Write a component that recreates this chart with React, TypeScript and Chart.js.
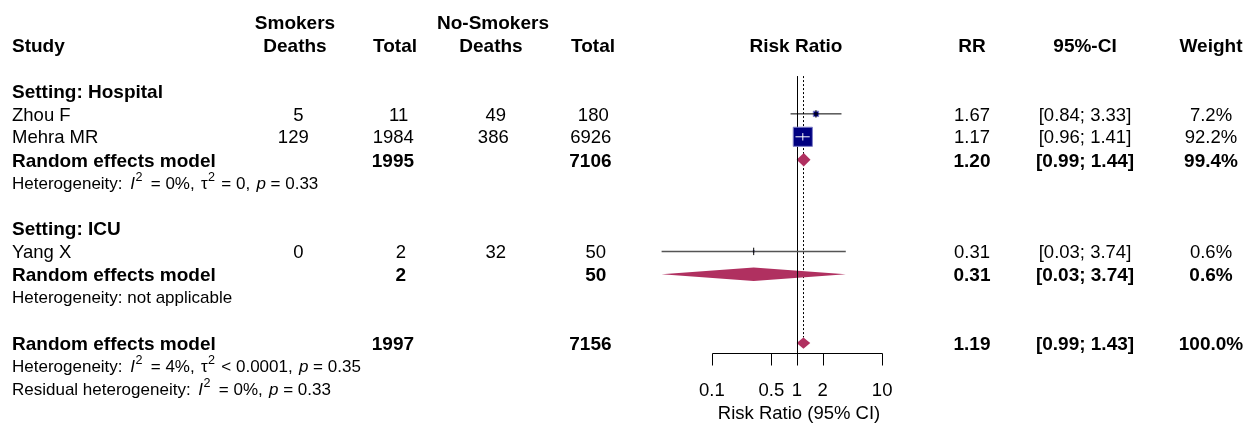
import { useEffect, useRef } from "react";
import { Chart, registerables } from "chart.js";

Chart.register(...registerables);

// ---------------- data ----------------
const studyNames = ["Zhou F", "Mehra MR", "Yang X"];
const studySetting = ["Hospital", "Hospital", "ICU"];
const smokersDeaths = [5, 129, 0];
const smokersTotal = [11, 1984, 2];
const nonSmokersDeaths = [49, 386, 32];
const nonSmokersTotal = [180, 6926, 50];
const studyRR = [1.67, 1.17, 0.31];
const studyLower = [0.84, 0.96, 0.0257];
const studyUpper = [3.33, 1.41, 3.74];
const studyWeight = [7.2, 92.2, 0.6];

const subgroupNames = ["Hospital", "ICU"];
const subgroupRR = [1.2, 0.31];
const subgroupLower = [0.99, 0.0257];
const subgroupUpper = [1.44, 3.74];
const subgroupWeight = [99.4, 0.6];
const subgroupI2 = ["0%", null];
const subgroupTau2 = ["= 0", null];
const subgroupP = ["0.33", null];

const overallRR = [1.19];
const overallLower = [0.99];
const overallUpper = [1.43];
const overallWeight = [100.0];
const overallI2 = ["4%"];
const overallTau2 = ["< 0.0001"];
const overallP = ["0.35"];
const residualI2 = ["0%"];
const residualP = ["0.33"];

const axisTicks = [0.1, 0.5, 1, 2, 10];
const axisTickLabels = ["0.1", "0.5", "1", "2", "10"];
const axisTitle = "Risk Ratio (95% CI)";

// ---------------- styles / layout ----------------
const W = 1249;
const H = 423;
const FONT = '"Liberation Sans", Arial, Helvetica, sans-serif';
const MAIN = 18.5;
const BOLD = 19;
const HET = 17;
const SQUARE_COL = "#000080";
const SQUARE_BORDER = "#8080c8";
const DIAMOND_COL = "#B03060";
const lineColors = ["#000000", "#ffffff", "#555555"];
const tickColors = ["#000000", "#ffffff", "#000000"];

// x: log scale spanning the full canvas (85.15 px per decade, 1 at x=797)
const X_MIN = Math.pow(10, -797 / 85.15);
const X_MAX = Math.pow(10, (W - 797) / 85.15);
// y: row index scale (22.92 px per row)
const ROW_PX = 22.92;
const Y_MIN = -0.9686;
const Y_MAX = Y_MIN + H / ROW_PX;

const COL = {
  study: 12,
  sDeaths: 301,
  sTotal: 403.5,
  nDeaths: 501,
  nTotal: 601,
  rr: 972,
  ci: 1085,
  weight: 1211,
};

type Part = { t: string; i?: boolean; sup?: boolean; b?: boolean; gap?: number };

function fmt2(v: number) {
  return v.toFixed(2);
}
function ciText(lo: number, hi: number) {
  return `[${lo.toFixed(2)}; ${hi.toFixed(2)}]`;
}

export default function App() {
  const ref = useRef<HTMLCanvasElement>(null);

  useEffect(() => {
    const canvas = ref.current!;
    let cur: any = null;

    // ---- rows ----
    type Row = { kind: string; idx: number; row: number };
    const rows: Row[] = [];
    let r = 3;
    const studyRow: number[] = [];
    const subgroupRow: number[] = [];
    subgroupNames.forEach((g, gi) => {
      rows.push({ kind: "setting", idx: gi, row: r++ });
      studyNames.forEach((_, si) => {
        if (studySetting[si] === g) {
          studyRow[si] = r;
          rows.push({ kind: "study", idx: si, row: r++ });
        }
      });
      subgroupRow[gi] = r;
      rows.push({ kind: "subgroup", idx: gi, row: r++ });
      rows.push({ kind: "subhet", idx: gi, row: r++ });
      r++;
    });
    const overallRow = r;
    const axisRow = overallRow + 0.45;
    const tickLabelRow = overallRow + 2;
    const axisTitleRow = overallRow + 3;
    const refTopRow = 2.35;

    const datasets: any[] = [];
    // CI lines
    studyNames.forEach((_, i) => {
      datasets.push({
        label: "ci-" + i,
        data: [
          { x: studyLower[i], y: studyRow[i] },
          { x: studyUpper[i], y: studyRow[i] },
        ],
        showLine: true,
        borderColor: lineColors[i],
        borderWidth: i === 2 ? 1.5 : 1,
        pointRadius: 0,
        order: 1,
      });
    });
    // squares (area proportional to weight)
    datasets.push({
      label: "squares",
      data: studyNames.map((_, i) => ({ x: studyRR[i], y: studyRow[i] })),
      pointStyle: "rect",
      pointRadius: studyWeight.map((w) => Math.sqrt(w) * 1.41),
      backgroundColor: SQUARE_COL,
      borderColor: SQUARE_BORDER,
      borderWidth: 1,
      order: 2,
    });
    // point-estimate ticks
    datasets.push({
      label: "ticks",
      data: studyNames.map((_, i) => ({ x: studyRR[i], y: studyRow[i] })),
      pointStyle: "line",
      rotation: 90,
      pointRadius: 3.7,
      borderColor: tickColors,
      borderWidth: 1,
      order: 0,
    });

    const drawText = (
      ctx: CanvasRenderingContext2D,
      text: string,
      x: number,
      row: number,
      opts: { bold?: boolean; size?: number; just?: number } = {}
    ) => {
      const size = opts.size ?? (opts.bold ? BOLD : MAIN);
      ctx.font = `${opts.bold ? "bold " : ""}${size}px ${FONT}`;
      const w = ctx.measureText(text).width;
      const just = opts.just ?? 0;
      const y = cur.scales.y.getPixelForValue(row) + size * 0.36;
      ctx.textAlign = "left";
      ctx.textBaseline = "alphabetic";
      ctx.fillText(text, x - w * just, y);
    };

    const drawRich = (ctx: CanvasRenderingContext2D, parts: Part[], x: number, row: number, size: number) => {
      const y = cur.scales.y.getPixelForValue(row) + size * 0.36;
      let cx = x;
      ctx.textAlign = "left";
      ctx.textBaseline = "alphabetic";
      for (const p of parts) {
        const s = p.sup ? size * 0.74 : size;
        ctx.font = `${p.i ? "italic " : ""}${p.b ? "bold " : ""}${s}px ${FONT}`;
        const dy = p.sup ? -size * 0.45 : 0;
        ctx.fillText(p.t, cx, y + dy);
        cx += ctx.measureText(p.t).width + (p.gap ?? 0);
      }
    };

    const hetParts = (prefix: string, i2: string, tau2: string | null, p: string): Part[] => {
      const parts: Part[] = [
        { t: prefix, gap: 3 },
        { t: "I", i: true, gap: 0.5 },
        { t: "2", sup: true, gap: 3.5 },
        { t: " = " + i2 + ",", gap: 1.5 },
      ];
      if (tau2 !== null) {
        parts.push({ t: " \u03c4", gap: 0.5 }, { t: "2", sup: true, gap: 1.5 }, { t: " " + tau2 + ",", gap: 1.5 });
      }
      parts.push({ t: " " }, { t: "p", i: true }, { t: " = " + p });
      return parts;
    };

    const diamond = (
      ctx: CanvasRenderingContext2D,
      lo: number,
      est: number,
      hi: number,
      row: number,
      half: number
    ) => {
      const xs = cur.scales.x;
      const ys = cur.scales.y;
      const y = ys.getPixelForValue(row);
      ctx.beginPath();
      ctx.moveTo(xs.getPixelForValue(lo), y);
      ctx.lineTo(xs.getPixelForValue(est), y - half);
      ctx.lineTo(xs.getPixelForValue(hi), y);
      ctx.lineTo(xs.getPixelForValue(est), y + half);
      ctx.closePath();
      ctx.fillStyle = DIAMOND_COL;
      ctx.fill();
    };

    const forestPlugin = {
      id: "forest",
      beforeDraw(c: any) {
        cur = c;
        const ctx = c.ctx as CanvasRenderingContext2D;
        ctx.save();
        ctx.fillStyle = "#ffffff";
        ctx.fillRect(0, 0, W, H);
        ctx.restore();
      },
      beforeDatasetsDraw(c: any) {
        cur = c;
        const ctx = c.ctx as CanvasRenderingContext2D;
        const xs = c.scales.x;
        const ys = c.scales.y;
        ctx.save();
        // dotted overall-effect line
        const xo = Math.round(xs.getPixelForValue(overallRR[0])) + 0.5;
        ctx.strokeStyle = "#000";
        ctx.lineWidth = 1;
        ctx.setLineDash([2, 2]);
        ctx.beginPath();
        ctx.moveTo(xo, ys.getPixelForValue(refTopRow));
        ctx.lineTo(xo, ys.getPixelForValue(overallRow) - 5.5);
        ctx.stroke();
        ctx.setLineDash([]);
        // diamonds
        subgroupNames.forEach((_, gi) => {
          diamond(ctx, subgroupLower[gi], subgroupRR[gi], subgroupUpper[gi], subgroupRow[gi], 6.7);
        });
        diamond(ctx, overallLower[0], overallRR[0], overallUpper[0], overallRow, 5.6);
        // solid null line
        const x1 = Math.round(xs.getPixelForValue(1)) + 0.5;
        ctx.strokeStyle = "#000";
        ctx.beginPath();
        ctx.moveTo(x1, ys.getPixelForValue(refTopRow));
        ctx.lineTo(x1, ys.getPixelForValue(axisRow));
        ctx.stroke();
        ctx.restore();
      },
      afterDraw(c: any) {
        cur = c;
        const ctx = c.ctx as CanvasRenderingContext2D;
        const xs = c.scales.x;
        const ys = c.scales.y;
        ctx.save();
        ctx.fillStyle = "#000";
        // axis
        const ya = Math.round(ys.getPixelForValue(axisRow)) + 0.5;
        const xl = Math.round(xs.getPixelForValue(axisTicks[0])) + 0.5;
        const xr = Math.round(xs.getPixelForValue(axisTicks[axisTicks.length - 1])) + 0.5;
        ctx.strokeStyle = "#000";
        ctx.lineWidth = 1;
        ctx.beginPath();
        ctx.moveTo(xl, ya);
        ctx.lineTo(xr, ya);
        axisTicks.forEach((t) => {
          const xt = Math.round(xs.getPixelForValue(t)) + 0.5;
          ctx.moveTo(xt, ya);
          ctx.lineTo(xt, ya + 12);
        });
        ctx.stroke();
        axisTicks.forEach((t, i) => {
          drawText(ctx, axisTickLabels[i], xs.getPixelForValue(t), tickLabelRow, { just: 0.5 });
        });
        drawText(ctx, axisTitle, xs.getPixelForValue(1) + 2, axisTitleRow, { just: 0.5 });

        // headers
        drawText(ctx, "Smokers", 295, 0, { bold: true, just: 0.5 });
        drawText(ctx, "No-Smokers", 493, 0, { bold: true, just: 0.5 });
        drawText(ctx, "Study", COL.study, 1, { bold: true });
        drawText(ctx, "Deaths", 295, 1, { bold: true, just: 0.5 });
        drawText(ctx, "Total", 395, 1, { bold: true, just: 0.5 });
        drawText(ctx, "Deaths", 491, 1, { bold: true, just: 0.5 });
        drawText(ctx, "Total", 593, 1, { bold: true, just: 0.5 });
        drawText(ctx, "Risk Ratio", xs.getPixelForValue(1) - 1, 1, { bold: true, just: 0.5 });
        drawText(ctx, "RR", COL.rr, 1, { bold: true, just: 0.5 });
        drawText(ctx, "95%-CI", COL.ci, 1, { bold: true, just: 0.5 });
        drawText(ctx, "Weight", COL.weight, 1, { bold: true, just: 0.5 });

        const NJ = 0.75;
        for (const row of rows) {
          const i = row.idx;
          if (row.kind === "setting") {
            drawText(ctx, "Setting: " + subgroupNames[i], COL.study, row.row, { bold: true });
          } else if (row.kind === "study") {
            drawText(ctx, studyNames[i], COL.study, row.row);
            drawText(ctx, String(smokersDeaths[i]), COL.sDeaths, row.row, { just: NJ });
            drawText(ctx, String(smokersTotal[i]), COL.sTotal, row.row, { just: NJ });
            drawText(ctx, String(nonSmokersDeaths[i]), COL.nDeaths, row.row, { just: NJ });
            drawText(ctx, String(nonSmokersTotal[i]), COL.nTotal, row.row, { just: NJ });
            drawText(ctx, fmt2(studyRR[i]), COL.rr, row.row, { just: 0.5 });
            drawText(ctx, ciText(studyLower[i], studyUpper[i]), COL.ci, row.row, { just: 0.5 });
            drawText(ctx, studyWeight[i].toFixed(1) + "%", COL.weight, row.row, { just: 0.5 });
          } else if (row.kind === "subgroup") {
            const g = subgroupNames[i];
            let st = 0;
            let nt = 0;
            studyNames.forEach((_, si) => {
              if (studySetting[si] === g) {
                st += smokersTotal[si];
                nt += nonSmokersTotal[si];
              }
            });
            drawText(ctx, "Random effects model", COL.study, row.row, { bold: true });
            drawText(ctx, String(st), COL.sTotal, row.row, { bold: true, just: NJ });
            drawText(ctx, String(nt), COL.nTotal, row.row, { bold: true, just: NJ });
            drawText(ctx, fmt2(subgroupRR[i]), COL.rr, row.row, { bold: true, just: 0.5 });
            drawText(ctx, ciText(subgroupLower[i], subgroupUpper[i]), COL.ci, row.row, { bold: true, just: 0.5 });
            drawText(ctx, subgroupWeight[i].toFixed(1) + "%", COL.weight, row.row, { bold: true, just: 0.5 });
          } else if (row.kind === "subhet") {
            if (subgroupI2[i] === null) {
              drawRich(ctx, [{ t: "Heterogeneity: not applicable" }], COL.study, row.row, HET);
            } else {
              drawRich(
                ctx,
                hetParts("Heterogeneity: ", subgroupI2[i] as string, subgroupTau2[i], subgroupP[i] as string),
                COL.study,
                row.row,
                HET
              );
            }
          }
        }
        // overall
        const sumS = smokersTotal.reduce((a, b) => a + b, 0);
        const sumN = nonSmokersTotal.reduce((a, b) => a + b, 0);
        drawText(ctx, "Random effects model", COL.study, overallRow, { bold: true });
        drawText(ctx, String(sumS), COL.sTotal, overallRow, { bold: true, just: NJ });
        drawText(ctx, String(sumN), COL.nTotal, overallRow, { bold: true, just: NJ });
        drawText(ctx, fmt2(overallRR[0]), COL.rr, overallRow, { bold: true, just: 0.5 });
        drawText(ctx, ciText(overallLower[0], overallUpper[0]), COL.ci, overallRow, { bold: true, just: 0.5 });
        drawText(ctx, overallWeight[0].toFixed(1) + "%", COL.weight, overallRow, { bold: true, just: 0.5 });
        drawRich(ctx, hetParts("Heterogeneity: ", overallI2[0], overallTau2[0], overallP[0]), COL.study, overallRow + 1, HET);
        drawRich(ctx, hetParts("Residual heterogeneity: ", residualI2[0], null, residualP[0]), COL.study, overallRow + 2, HET);
        ctx.restore();
      },
    };

    const chart: any = new Chart(canvas, {
      type: "scatter",
      data: { datasets },
      options: {
        animation: false,
        responsive: false,
        devicePixelRatio: 1,
        events: [],
        layout: { padding: 0, autoPadding: false },
        plugins: {
          legend: { display: false },
          tooltip: { enabled: false },
          title: { display: false },
        },
        scales: {
          x: { type: "logarithmic", display: false, min: X_MIN, max: X_MAX },
          y: { type: "linear", display: false, reverse: true, min: Y_MIN, max: Y_MAX },
        },
      } as any,
      plugins: [forestPlugin as any],
    });

    return () => chart.destroy();
  }, []);

  return (
    <div style={{ position: "absolute", left: 0, top: 0, width: W, height: H, background: "#fff" }}>
      <canvas ref={ref} width={W} height={H} style={{ display: "block" }} />
    </div>
  );
}
